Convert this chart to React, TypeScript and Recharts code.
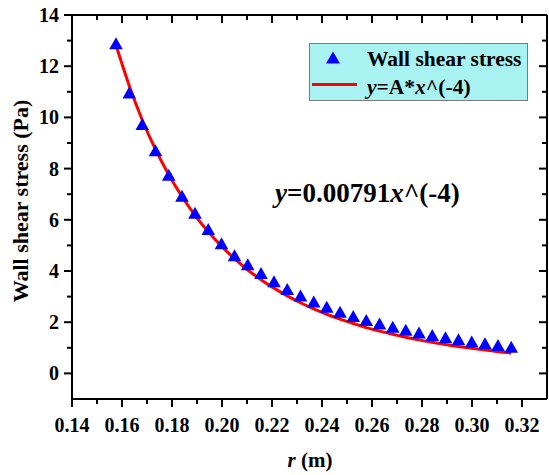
import React from 'react';
import { ComposedChart, Scatter, Line, XAxis, YAxis, Legend } from 'recharts';

const rValues = [
  0.1576, 0.1629, 0.1681, 0.1734, 0.1787, 0.184, 0.1892, 0.1945, 0.1998, 0.205,
  0.2103, 0.2156, 0.2208, 0.2261, 0.2314, 0.2367, 0.2419, 0.2472, 0.2525, 0.2577,
  0.263, 0.2683, 0.2735, 0.2788, 0.2841, 0.2894, 0.2946, 0.2999, 0.3052, 0.3104, 0.3157,
];
const stressValues = [
  12.88, 10.95, 9.72, 8.7, 7.74, 6.92, 6.26, 5.62, 5.06, 4.6,
  4.24, 3.9, 3.58, 3.28, 3.02, 2.79, 2.58, 2.39, 2.22, 2.07,
  1.93, 1.8, 1.69, 1.58, 1.48, 1.39, 1.31, 1.23, 1.16, 1.09, 1.02,
];
const fitValues = [
  12.82, 11.24, 9.9, 8.75, 7.76, 6.91, 6.17, 5.53, 4.97, 4.48,
  4.04, 3.66, 3.33, 3.03, 2.76, 2.52, 2.31, 2.12, 1.95, 1.79,
  1.65, 1.53, 1.41, 1.31, 1.22, 1.13, 1.05, 0.98, 0.91, 0.85, 0.8,
];
const xMajorTicks = [0.14, 0.16, 0.18, 0.2, 0.22, 0.24, 0.26, 0.28, 0.3, 0.32];
const xMinorTicks = [0.15, 0.17, 0.19, 0.21, 0.23, 0.25, 0.27, 0.29, 0.31];
const yMajorTicks = [0, 2, 4, 6, 8, 10, 12, 14];
const yMinorTicks = [1, 3, 5, 7, 9, 11, 13];
const seriesNames = ['Wall shear stress', 'y=A*x^(-4)'];
const equationCoef = '0.00791';

const data = rValues.map((r, i) => ({ r, stress: stressValues[i], fit: fitValues[i] }));
const xTicks = [...xMajorTicks, ...xMinorTicks].sort((a, b) => a - b);
const yTicks = [...yMajorTicks, ...yMinorTicks].sort((a, b) => a - b);

const SERIF = 'Liberation Serif';
const isMajor = (arr: number[], v: number) => arr.some((t) => Math.abs(t - v) < 1e-9);

const BottomTick = (props: any) => {
  const { x, y, payload } = props;
  const major = isMajor(xMajorTicks, payload.value);
  return (
    <g>
      <line x1={x} x2={x} y1={y} y2={y + (major ? 8 : 5)} stroke="#000" strokeWidth={2} />
      {major && (
        <text x={x} y={y + 33} textAnchor="middle" fontSize={20} fontWeight="bold" style={{ fontFamily: SERIF }} fill="#000">
          {payload.value.toFixed(2)}
        </text>
      )}
    </g>
  );
};

const TopTick = (props: any) => {
  const { x, y, payload } = props;
  const major = isMajor(xMajorTicks, payload.value);
  return <line x1={x} x2={x} y1={y} y2={y + (major ? 8 : 5)} stroke="#000" strokeWidth={2} />;
};

const LeftTick = (props: any) => {
  const { x, y, payload } = props;
  const major = isMajor(yMajorTicks, payload.value);
  return (
    <g>
      <line x1={x - (major ? 8 : 5)} x2={x} y1={y} y2={y} stroke="#000" strokeWidth={2} />
      {major && (
        <text x={x - 13} y={y} dy="0.35em" textAnchor="end" fontSize={20} fontWeight="bold" style={{ fontFamily: SERIF }} fill="#000">
          {payload.value}
        </text>
      )}
    </g>
  );
};

const RightTick = (props: any) => {
  const { x, y, payload } = props;
  const major = isMajor(yMajorTicks, payload.value);
  return <line x1={x - (major ? 8 : 5)} x2={x} y1={y} y2={y} stroke="#000" strokeWidth={2} />;
};

const TriangleShape = (props: any) => {
  const { cx, cy } = props;
  if (cx == null || cy == null) return null;
  return <polygon points={`${cx},${cy - 6.5} ${cx - 6.8},${cy + 5.5} ${cx + 6.8},${cy + 5.5}`} fill="#0000ff" />;
};

const LegendBox = () => (
  <div style={{ width: 219, height: 58, background: '#a9f2f2', border: '1px solid #7a7a7a', boxSizing: 'border-box' }}>
    <svg width={217} height={56} style={{ display: 'block' }}>
      <polygon points="23,7.5 16,19.5 30,19.5" fill="#0000ff" />
      <text x={57} y={21.5} fontSize={21.5} fontWeight="bold" style={{ fontFamily: SERIF }} fill="#000">
        {seriesNames[0]}
      </text>
      <line x1={2} x2={47} y1={40.5} y2={40.5} stroke="#ff0000" strokeWidth={3} />
      <text x={57} y={49.5} fontSize={21.5} fontWeight="bold" style={{ fontFamily: SERIF }} fill="#000">
        <tspan fontStyle="italic">y</tspan>=A*<tspan fontStyle="italic">x</tspan>^(-4)
      </text>
    </svg>
  </div>
);

const axisLine = { stroke: '#000', strokeWidth: 2 };

export default function App() {
  return (
    <div style={{ position: 'absolute', left: 0, top: 0, width: 549, height: 475, background: '#fff' }}>
      <ComposedChart width={549} height={475} data={data} margin={{ top: 0, right: 0, bottom: 0, left: 0 }}>
        <XAxis
          xAxisId="main"
          dataKey="r"
          type="number"
          domain={[0.14, 0.33]}
          ticks={xTicks}
          interval={0}
          tickSize={0}
          tickMargin={0}
          tickLine={false}
          tick={<BottomTick />}
          height={76}
          axisLine={axisLine}
          allowDataOverflow
        />
        <XAxis
          xAxisId="top"
          orientation="top"
          dataKey="r"
          type="number"
          domain={[0.14, 0.33]}
          ticks={xTicks}
          interval={0}
          tickSize={0}
          tickMargin={0}
          tickLine={false}
          tick={<TopTick />}
          height={15}
          axisLine={axisLine}
          allowDataOverflow
        />
        <YAxis
          yAxisId="main"
          type="number"
          domain={[-1, 14]}
          ticks={yTicks}
          interval={0}
          tickSize={0}
          tickMargin={0}
          tickLine={false}
          tick={<LeftTick />}
          width={72}
          axisLine={axisLine}
          allowDataOverflow
        />
        <YAxis
          yAxisId="right"
          orientation="right"
          type="number"
          domain={[-1, 14]}
          ticks={yTicks}
          interval={0}
          tickSize={0}
          tickMargin={0}
          tickLine={false}
          tick={<RightTick />}
          width={2}
          axisLine={axisLine}
          allowDataOverflow
        />
        <Scatter
          xAxisId="main"
          yAxisId="main"
          name={seriesNames[0]}
          dataKey="stress"
          fill="#0000ff"
          shape={TriangleShape}
          isAnimationActive={false}
        />
        <Line
          xAxisId="main"
          yAxisId="main"
          name={seriesNames[1]}
          dataKey="fit"
          type="monotone"
          stroke="#ff0000"
          strokeWidth={3}
          dot={false}
          activeDot={false}
          isAnimationActive={false}
        />
        <Legend
          layout="vertical"
          align="center"
          verticalAlign="middle"
          content={<LegendBox />}
          wrapperStyle={{ position: 'absolute', left: 309, top: 43, width: 219, height: 58 }}
        />
      </ComposedChart>
      <svg
        width={549}
        height={475}
        style={{ position: 'absolute', left: 0, top: 0, pointerEvents: 'none' }}
      >
        <text
          transform="translate(20,201) rotate(-90)"
          textAnchor="middle"
          dominantBaseline="central"
          fontSize={22}
          fontWeight="bold"
          style={{ fontFamily: SERIF }}
          fill="#000"
        >
          Wall shear stress (Pa)
        </text>
        <text x={310} y={467} textAnchor="middle" fontSize={21} fontWeight="bold" style={{ fontFamily: SERIF }} fill="#000">
          <tspan fontStyle="italic">r</tspan> (m)
        </text>
        <text x={275} y={202} fontSize={27} fontWeight="bold" style={{ fontFamily: SERIF }} fill="#000">
          <tspan fontStyle="italic">y</tspan>={equationCoef}
          <tspan fontStyle="italic">x</tspan>^(-4)
        </text>
      </svg>
    </div>
  );
}
